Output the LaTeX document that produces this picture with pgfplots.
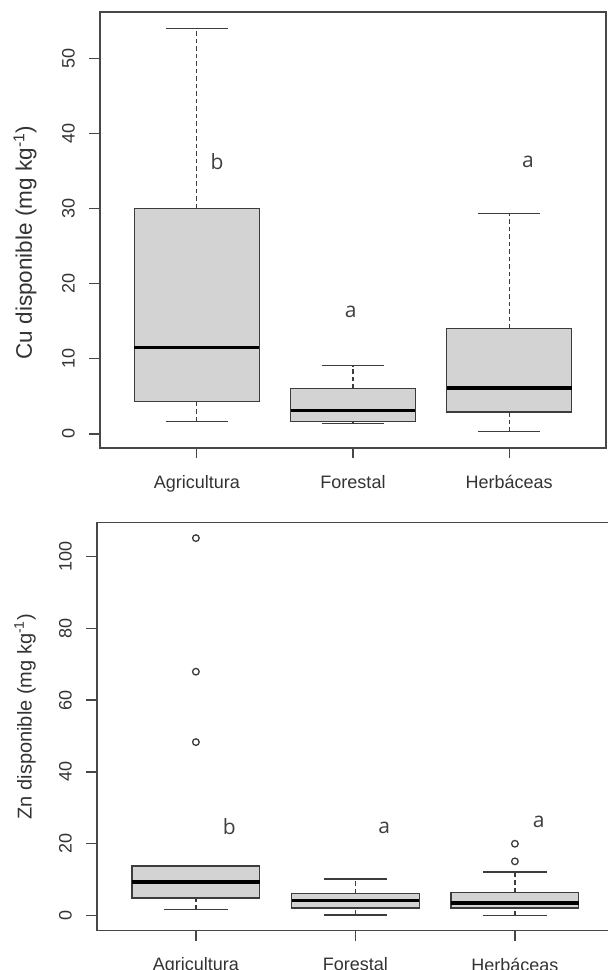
\documentclass[border=0pt]{standalone}
\usepackage{pgfplots}
\pgfplotsset{compat=1.18}
\usepgfplotslibrary{statistics}
\usepackage{fontspec}
\setmainfont{Liberation Sans}
\newfontfamily\letterfont{Open Sans}
\definecolor{textgray}{HTML}{333333}
\definecolor{framegray}{HTML}{474747}
\definecolor{boxline}{HTML}{3C3C3C}
\definecolor{boxfill}{HTML}{D3D3D3}
\definecolor{lettergray}{HTML}{3F3F3F}
\pgfplotsset{
  rbox/.style={
    scale only axis,
    xmin=0.38, xmax=3.62,
    xtick={1,2,3},
    xticklabels={Agricultura,Forestal,Herbáceas},
    xtick pos=lower, ytick pos=left,
    tick align=outside,
    major tick length=10.5pt,
    minor tick num=0,
    tick style={draw=framegray, line width=1.3pt},
    axis line style={draw=framegray, line width=1.4pt},
    /pgf/number format/assume math mode=true,
    tick label style={font=\fontsize{18}{20}\selectfont, text=textgray},
    xticklabel style={anchor=north, inner sep=0pt},
    yticklabel style={rotate=90, anchor=south, inner sep=0pt},
    xticklabel shift=16.5pt,
    yticklabel shift=14.5pt,
    clip=false,
    boxplot/draw direction=y,
    boxplot/box extend=0.8,
    boxplot/whisker extend=0.4,
    boxplot/every box/.style={draw=boxline, fill=boxfill, line width=1.4pt},
    boxplot/every whisker/.style={draw=boxline, line width=1.3pt},
    boxplot/every median/.style={draw=black, line width=3.5pt},
    boxplot/draw/lower whisker/.code={%
      \draw[/pgfplots/boxplot/every whisker/.try, dash pattern=on 4.5pt off 3pt]
        (boxplot box cs:\pgfplotsboxplotvalue{lower whisker},0.5) --
        (boxplot box cs:\pgfplotsboxplotvalue{lower quartile},0.5);
      \draw[/pgfplots/boxplot/every whisker/.try]
        (boxplot whisker cs:\pgfplotsboxplotvalue{lower whisker},0) --
        (boxplot whisker cs:\pgfplotsboxplotvalue{lower whisker},1);
    },
    boxplot/draw/upper whisker/.code={%
      \draw[/pgfplots/boxplot/every whisker/.try, dash pattern=on 4.5pt off 3pt]
        (boxplot box cs:\pgfplotsboxplotvalue{upper quartile},0.5) --
        (boxplot box cs:\pgfplotsboxplotvalue{upper whisker},0.5);
      \draw[/pgfplots/boxplot/every whisker/.try]
        (boxplot whisker cs:\pgfplotsboxplotvalue{upper whisker},0) --
        (boxplot whisker cs:\pgfplotsboxplotvalue{upper whisker},1);
    },
  },
  rplot/.style={mark=none},
  routl/.style={only marks, mark=o, mark size=3.3pt,
    mark options={draw=boxline, line width=1.3pt}},
}
\begin{document}
\begin{tikzpicture}
\useasboundingbox (0pt,0pt) rectangle (608pt,970pt);
\clip (0pt,0pt) rectangle (608pt,970pt);
% ---------------- Top panel: Cu ----------------
\begin{axis}[rbox,
  at={(100pt,522pt)}, anchor=south west,
  width=506pt, height=436pt,
  ymin=-1.88, ymax=56.15,
  ytick={0,10,20,30,40,50},
  ylabel={Cu disponible (mg kg\textsuperscript{-1})},
  ylabel style={font=\fontsize{22.5}{24}\selectfont, text=textgray,
    at={(axis description cs:-0.1482,0.471)}, anchor=center, rotate=0},
]
\addplot[rplot, boxplot prepared={draw position=1,
  lower whisker=1.68, lower quartile=4.34, median=11.5,
  upper quartile=30.0, upper whisker=54.0}] coordinates {};
\addplot[rplot, boxplot prepared={draw position=2,
  lower whisker=1.37, lower quartile=1.68, median=3.1,
  upper quartile=6.02, upper whisker=9.08}] coordinates {};
\addplot[rplot, boxplot prepared={draw position=3,
  lower whisker=0.27, lower quartile=2.9, median=6.1,
  upper quartile=14.0, upper whisker=29.3}] coordinates {};
\node[font=\letterfont\fontsize{21}{22}\selectfont, text=lettergray] at (axis cs:1.13,36.3) {b};
\node[font=\letterfont\fontsize{21}{22}\selectfont, text=lettergray] at (axis cs:1.985,16.3) {a};
\node[font=\letterfont\fontsize{21}{22}\selectfont, text=lettergray] at (axis cs:3.12,36.25) {a};
\end{axis}
% ---------------- Bottom panel: Zn ----------------
\begin{axis}[rbox,
  at={(97pt,39.3pt)}, anchor=south west,
  width=516.8pt, height=408.4pt,
  ymin=-4.21, ymax=109.5,
  ytick={0,20,40,60,80,100},
  ylabel={Zn disponible (mg kg\textsuperscript{-1})},
  ylabel style={font=\fontsize{20}{22}\selectfont, text=textgray,
    at={(axis description cs:-0.1393,0.524)}, anchor=center, rotate=0},
]
\addplot[rplot, boxplot prepared={draw position=1,
  lower whisker=1.67, lower quartile=4.9, median=9.3,
  upper quartile=13.8, upper whisker=13.8}] coordinates {};
\addplot[rplot, boxplot prepared={draw position=2,
  lower whisker=0.2, lower quartile=2.1, median=4.2,
  upper quartile=6.2, upper whisker=10.2}] coordinates {};
\addplot[rplot, boxplot prepared={draw position=3,
  lower whisker=0.05, lower quartile=2.1, median=3.5,
  upper quartile=6.5, upper whisker=12.1}] coordinates {};
\addplot[routl] coordinates {(1,105.1) (1,67.9) (1,48.3) (3,20.0) (3,15.1)};
\node[font=\letterfont\fontsize{21}{22}\selectfont, text=lettergray] at (axis cs:1.21,24.9) {b};
\node[font=\letterfont\fontsize{21}{22}\selectfont, text=lettergray] at (axis cs:2.18,24.4) {a};
\node[font=\letterfont\fontsize{21}{22}\selectfont, text=lettergray] at (axis cs:3.15,26.1) {a};
\end{axis}
\end{tikzpicture}
\end{document}
